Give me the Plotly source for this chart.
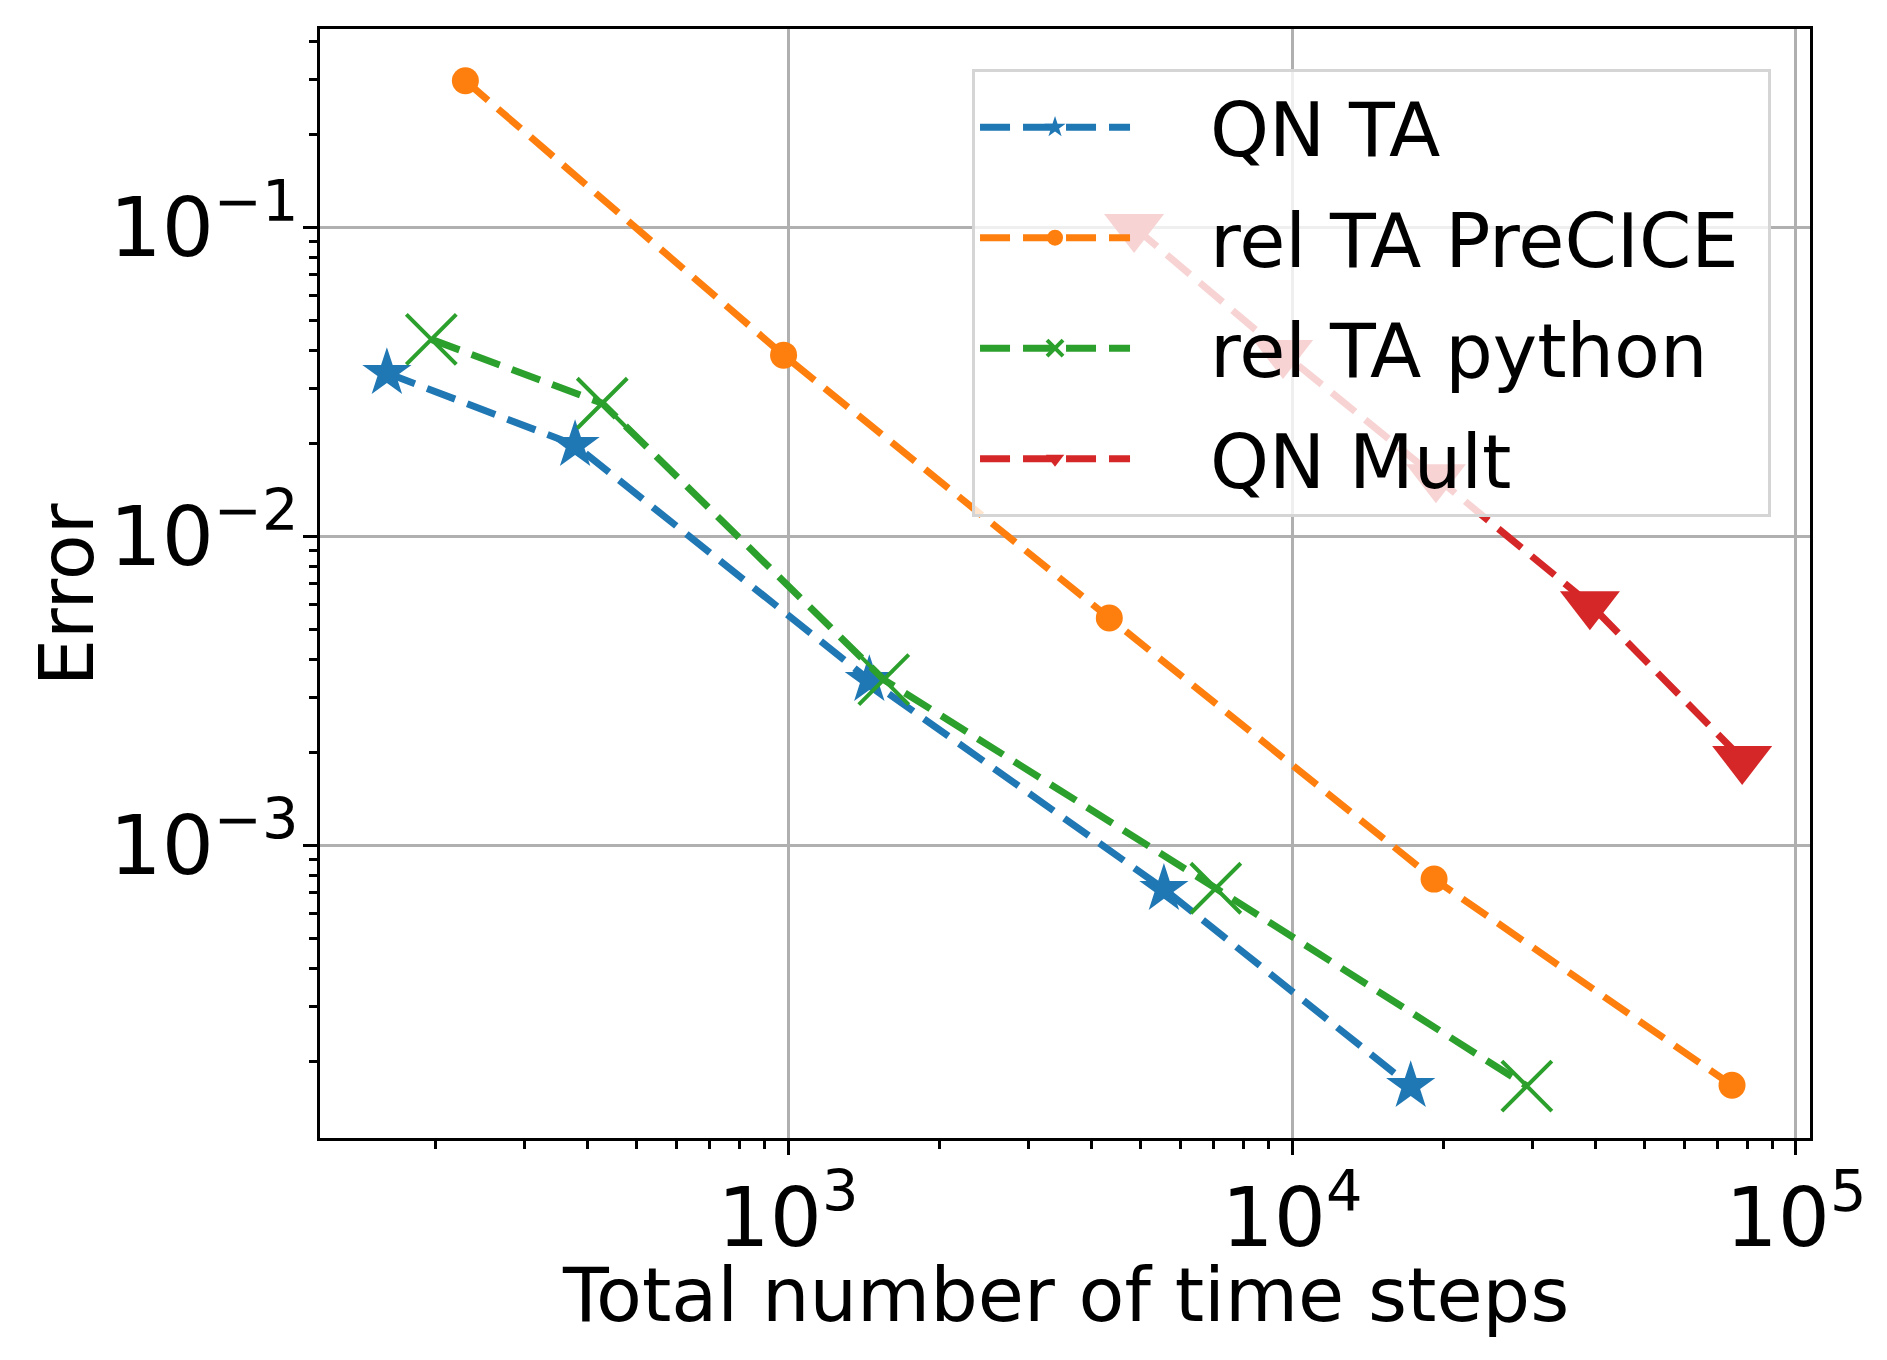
import plotly.graph_objects as go

# values
qn_ta_x = [160, 378, 1450, 5570, 17200]
qn_ta_y = [0.0337, 0.0197, 0.00342, 7.21e-4, 1.66e-4]

precice_x = [229, 980, 4340, 19140, 74660]
precice_y = [0.2975, 0.0385, 0.00543, 7.76e-4, 1.67e-4]

python_x = [196, 428, 1549, 7060, 29240]
python_y = [0.0433, 0.0269, 0.00343, 7.25e-4, 1.66e-4]

qn_mult_x = [4860, 9600, 19300, 39000, 78200]
qn_mult_y = [0.100, 0.0391, 0.0155, 0.00602, 0.00190]

x_ticks = [1e3, 1e4, 1e5]
x_tick_text = ["10<sup>3</sup>", "10<sup>4</sup>", "10<sup>5</sup>"]
y_ticks = [1e-3, 1e-2, 1e-1]
y_tick_text = ["10<sup>\u22123</sup>", "10<sup>\u22122</sup>", "10<sup>\u22121</sup>"]

x_minor = [m * 10 ** k for k in (2, 3, 4) for m in range(2, 10)]
y_minor = [m * 10.0 ** k for k in (-4, -3, -2, -1) for m in range(2, 10)]

FONT = "DejaVu Sans"
dash = "30px,13px"
pad = "\u2002\u2002"  # gap between legend handle and label

fig = go.Figure()

# trace styles: (name, x, y, colour, symbol, size)
series = [
    ("QN TA", qn_ta_x, qn_ta_y, "#1f77b4", "star", 37),
    ("rel TA PreCICE", precice_x, precice_y, "#ff7f0e", "circle", 27),
    ("rel TA python", python_x, python_y, "#2ca02c", "x-thin", 50),
    ("QN Mult", qn_mult_x, qn_mult_y, "#d62728", "triangle-down", 52),
]

for name, xs, ys, col, sym, size in series:
    if sym == "x-thin":
        marker = dict(symbol=sym, size=size, color=col, line=dict(color=col, width=4))
    else:
        marker = dict(symbol=sym, size=size, color=col, line=dict(width=0))
    fig.add_trace(go.Scatter(
        x=xs, y=ys, name=pad + name + "\u00a0", mode="lines+markers",
        line=dict(color=col, width=7, dash=dash),
        marker=marker, legendgroup=name,
    ))

axis_common = dict(
    type="log",
    showline=True, linecolor="black", linewidth=3.3, mirror=True,
    showgrid=True, gridcolor="#b0b0b0", gridwidth=3.3,
    ticks="outside", ticklen=14, tickwidth=3.3, tickcolor="black",
    tickfont=dict(family=FONT, size=82, color="black"),
    tickmode="array",
)

fig.update_xaxes(
    **axis_common,
    range=[2.0714, 5.0278],
    tickvals=x_ticks, ticktext=x_tick_text, ticklabelstandoff=-8,
    minor=dict(tickmode="array", tickvals=x_minor, ticks="outside",
               ticklen=8, tickwidth=2.5, tickcolor="black", showgrid=False),
)
fig.update_yaxes(
    **axis_common,
    range=[-3.948, -0.359],
    tickvals=y_ticks, ticktext=y_tick_text, ticklabelstandoff=-12,
    minor=dict(tickmode="array", tickvals=y_minor, ticks="outside",
               ticklen=8, tickwidth=2.5, tickcolor="black", showgrid=False),
)

# axis titles
fig.add_annotation(text="Total number of time steps", xref="paper", yref="paper",
                   x=0.5, y=-0.142, xanchor="center", yanchor="middle", showarrow=False,
                   font=dict(family=FONT, size=75, color="black"))
fig.add_annotation(text="Error", xref="paper", yref="paper", textangle=-90,
                   x=-0.17, y=0.49, xanchor="center", yanchor="middle", showarrow=False,
                   font=dict(family=FONT, size=75, color="black"))

fig.update_layout(
    width=1887, height=1360,
    margin=dict(l=312, r=85, t=21, b=230, autoexpand=False),
    plot_bgcolor="white", paper_bgcolor="white",
    font=dict(family=FONT, size=75, color="black"),
    legend=dict(
        x=0.4376, y=0.964, xanchor="left", yanchor="top",
        bgcolor="rgba(255,255,255,0.8)", bordercolor="#d5d5d5", borderwidth=3,
        font=dict(family=FONT, size=75, color="black"),
        itemwidth=150, tracegroupgap=10,
    ),
    showlegend=True,
)

fig.write_html("out.html")
